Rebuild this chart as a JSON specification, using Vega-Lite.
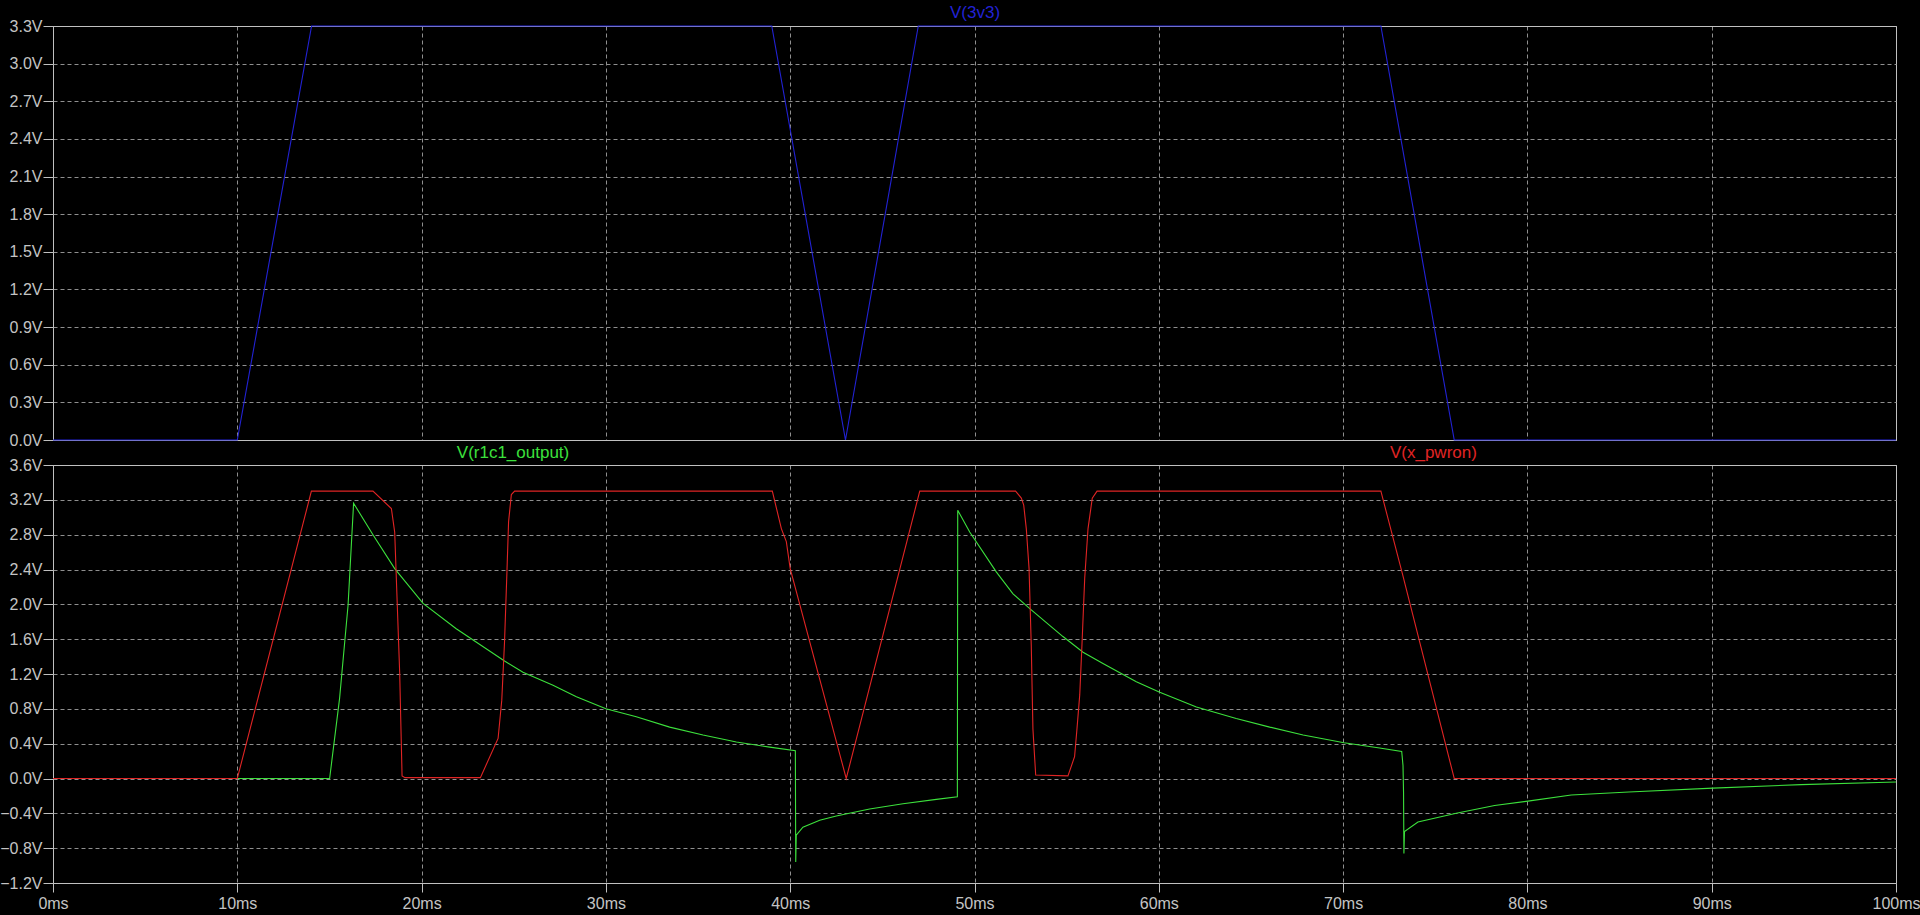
{
  "$schema": "https://vega.github.io/schema/vega-lite/v6.json",
  "background": "#000000",
  "padding": {"left": -1, "top": 3, "right": 0, "bottom": 6},
  "spacing": 25,
  "bounds": "flush",
  "datasets": {
    "v3v3": [
      {"t": 0, "v": 0}, {"t": 10.0, "v": 0}, {"t": 14.03, "v": 3.3}, {"t": 39.0, "v": 3.3},
      {"t": 43.0, "v": 0}, {"t": 46.95, "v": 3.3}, {"t": 72.05, "v": 3.3}, {"t": 76.03, "v": 0}, {"t": 100, "v": 0}
    ],
    "pwron": [
      {"t": 0, "v": 0}, {"t": 10.0, "v": 0}, {"t": 14.02, "v": 3.3}, {"t": 17.36, "v": 3.3},
      {"t": 18.36, "v": 3.1}, {"t": 18.54, "v": 2.83}, {"t": 18.81, "v": 1.22}, {"t": 18.94, "v": 0.03},
      {"t": 19.1, "v": 0.01}, {"t": 23.19, "v": 0.01}, {"t": 24.15, "v": 0.46}, {"t": 24.35, "v": 0.9},
      {"t": 24.5, "v": 1.57}, {"t": 24.63, "v": 2.37}, {"t": 24.72, "v": 2.95}, {"t": 24.87, "v": 3.26},
      {"t": 25.05, "v": 3.3}, {"t": 39.03, "v": 3.3}, {"t": 39.52, "v": 2.87}, {"t": 39.79, "v": 2.72},
      {"t": 40.0, "v": 2.41}, {"t": 43.04, "v": 0.0}, {"t": 47.03, "v": 3.3}, {"t": 52.23, "v": 3.3},
      {"t": 52.54, "v": 3.22}, {"t": 52.67, "v": 3.14}, {"t": 52.81, "v": 2.87}, {"t": 52.96, "v": 2.41},
      {"t": 53.08, "v": 1.53}, {"t": 53.17, "v": 0.57}, {"t": 53.32, "v": 0.04}, {"t": 55.07, "v": 0.03},
      {"t": 55.43, "v": 0.25}, {"t": 55.56, "v": 0.57}, {"t": 55.71, "v": 0.96}, {"t": 55.83, "v": 1.53},
      {"t": 55.98, "v": 2.3}, {"t": 56.16, "v": 2.87}, {"t": 56.39, "v": 3.22}, {"t": 56.65, "v": 3.3},
      {"t": 72.05, "v": 3.3}, {"t": 73.23, "v": 2.34}, {"t": 76.03, "v": 0.0}, {"t": 100, "v": 0.0}
    ],
    "r1c1": [
      {"t": 0, "v": 0}, {"t": 15.01, "v": 0}, {"t": 15.55, "v": 0.92}, {"t": 16.01, "v": 1.99},
      {"t": 16.31, "v": 3.16}, {"t": 17.36, "v": 2.8}, {"t": 18.54, "v": 2.41}, {"t": 20.08, "v": 2.01},
      {"t": 21.88, "v": 1.72}, {"t": 24.5, "v": 1.35}, {"t": 25.5, "v": 1.22}, {"t": 27.13, "v": 1.07},
      {"t": 28.4, "v": 0.94}, {"t": 30.0, "v": 0.8}, {"t": 31.65, "v": 0.71}, {"t": 33.46, "v": 0.59},
      {"t": 35.27, "v": 0.5}, {"t": 37.08, "v": 0.42}, {"t": 38.89, "v": 0.36}, {"t": 40.28, "v": 0.32},
      {"t": 40.3, "v": -0.96}, {"t": 40.33, "v": -0.65}, {"t": 40.69, "v": -0.56}, {"t": 41.6, "v": -0.48},
      {"t": 42.5, "v": -0.43}, {"t": 44.31, "v": -0.35}, {"t": 46.12, "v": -0.29}, {"t": 47.93, "v": -0.24},
      {"t": 49.07, "v": -0.21}, {"t": 49.09, "v": 3.08}, {"t": 49.74, "v": 2.83}, {"t": 51.19, "v": 2.37},
      {"t": 52.09, "v": 2.12}, {"t": 53.0, "v": 1.95}, {"t": 54.8, "v": 1.63}, {"t": 55.89, "v": 1.45},
      {"t": 56.97, "v": 1.32}, {"t": 58.78, "v": 1.11}, {"t": 60.05, "v": 0.99}, {"t": 62.04, "v": 0.82},
      {"t": 64.2, "v": 0.69}, {"t": 66.02, "v": 0.59}, {"t": 67.83, "v": 0.5}, {"t": 70.05, "v": 0.41},
      {"t": 71.98, "v": 0.35}, {"t": 73.18, "v": 0.31}, {"t": 73.25, "v": 0.15}, {"t": 73.28, "v": -0.16},
      {"t": 73.3, "v": -0.86}, {"t": 73.33, "v": -0.61}, {"t": 74.06, "v": -0.5}, {"t": 76.14, "v": -0.4},
      {"t": 78.22, "v": -0.31}, {"t": 80.03, "v": -0.26}, {"t": 82.38, "v": -0.19}, {"t": 85.5, "v": -0.155},
      {"t": 90.07, "v": -0.11}, {"t": 94.85, "v": -0.07}, {"t": 100, "v": -0.04}
    ],
    "topLabel": [{"t": 50.03, "v": 3.4, "label": "V(3v3)"}],
    "greenLabel": [{"t": 24.96, "v": 3.74, "label": "V(r1c1_output)"}],
    "redLabel": [{"t": 74.9, "v": 3.74, "label": "V(x_pwron)"}]
  },
  "vconcat": [
    {
      "width": 1843,
      "height": 414,
      "layer": [
        {
          "data": {"name": "v3v3"},
          "mark": {"type": "line", "color": "#2222d4", "strokeWidth": 1.1},
          "encoding": {
            "x": {
              "field": "t", "type": "quantitative",
              "scale": {"domain": [0, 100], "nice": false, "zero": false},
              "axis": {
                "values": [0, 10, 20, 30, 40, 50, 60, 70, 80, 90, 100], "tickCount": 50,
                "title": null, "labels": false, "ticks": false, "domain": false,
                "grid": true, "minExtent": 0, "maxExtent": 0,
                "gridColor": {"condition": {"test": "datum.value <= 0.001 || datum.value >= 99.999", "value": "#c0c0c0"}, "value": "#8f8f8f"},
                "gridDash": {"condition": {"test": "datum.value <= 0.001 || datum.value >= 99.999", "value": []}, "value": [4, 3]}
              }
            },
            "y": {
              "field": "v", "type": "quantitative",
              "scale": {"domain": [0, 3.3], "nice": false, "zero": false},
              "axis": {
                "values": [0, 0.3, 0.6, 0.9, 1.2, 1.5, 1.8, 2.1, 2.4, 2.7, 3.0, 3.3], "tickCount": 50,
                "labelExpr": "format(datum.value, '.1f') + 'V'",
                "title": null, "domain": false, "ticks": true, "tickSize": 10,
                "tickColor": "#c0c0c0", "labelPadding": 1, "labelColor": "#c4c4c4",
                "labelFont": "Liberation Sans", "labelFontSize": 16, "labelOverlap": false,
                "minExtent": 45, "maxExtent": 45, "grid": true,
                "gridColor": {"condition": {"test": "datum.value <= 0.001 || datum.value >= 3.299", "value": "#c0c0c0"}, "value": "#8f8f8f"},
                "gridDash": {"condition": {"test": "datum.value <= 0.001 || datum.value >= 3.299", "value": []}, "value": [4, 3]}
              }
            }
          }
        },
        {
          "data": {"name": "topLabel"},
          "mark": {"type": "text", "color": "#2222d4", "fontSize": 17, "font": "Liberation Sans", "align": "center", "baseline": "middle"},
          "encoding": {
            "x": {"field": "t", "type": "quantitative"},
            "y": {"field": "v", "type": "quantitative"},
            "text": {"field": "label"}
          }
        }
      ]
    },
    {
      "width": 1843,
      "height": 418,
      "layer": [
        {
          "data": {"name": "r1c1"},
          "mark": {"type": "line", "color": "#3ce03c", "strokeWidth": 1.1},
          "encoding": {
            "x": {
              "field": "t", "type": "quantitative",
              "scale": {"domain": [0, 100], "nice": false, "zero": false},
              "axis": {
                "values": [0, 10, 20, 30, 40, 50, 60, 70, 80, 90, 100], "tickCount": 50,
                "labelExpr": "format(datum.value, 'd') + 'ms'",
                "title": null, "domain": false, "ticks": true, "tickSize": 9,
                "tickColor": "#c0c0c0", "labelPadding": 3, "labelColor": "#c4c4c4",
                "labelFont": "Liberation Sans", "labelFontSize": 16, "labelFlush": false,
                "labelOverlap": false, "grid": true,
                "gridColor": {"condition": {"test": "datum.value <= 0.001 || datum.value >= 99.999", "value": "#c0c0c0"}, "value": "#8f8f8f"},
                "gridDash": {"condition": {"test": "datum.value <= 0.001 || datum.value >= 99.999", "value": []}, "value": [4, 3]}
              }
            },
            "y": {
              "field": "v", "type": "quantitative",
              "scale": {"domain": [-1.2, 3.6], "nice": false, "zero": false},
              "axis": {
                "values": [-1.2, -0.8, -0.4, 0, 0.4, 0.8, 1.2, 1.6, 2.0, 2.4, 2.8, 3.2, 3.6], "tickCount": 50,
                "labelExpr": "format(datum.value, '.1f') + 'V'",
                "title": null, "domain": false, "ticks": true, "tickSize": 10,
                "tickColor": "#c0c0c0", "labelPadding": 1, "labelColor": "#c4c4c4",
                "labelFont": "Liberation Sans", "labelFontSize": 16, "labelOverlap": false,
                "minExtent": 45, "maxExtent": 45, "grid": true,
                "gridColor": {"condition": {"test": "datum.value <= -1.199 || datum.value >= 3.599", "value": "#c0c0c0"}, "value": "#8f8f8f"},
                "gridDash": {"condition": {"test": "datum.value <= -1.199 || datum.value >= 3.599", "value": []}, "value": [4, 3]}
              }
            }
          }
        },
        {
          "data": {"name": "pwron"},
          "mark": {"type": "line", "color": "#e02424", "strokeWidth": 1.1},
          "encoding": {
            "x": {"field": "t", "type": "quantitative"},
            "y": {"field": "v", "type": "quantitative"}
          }
        },
        {
          "data": {"name": "greenLabel"},
          "mark": {"type": "text", "color": "#3ce03c", "fontSize": 17, "font": "Liberation Sans", "align": "center", "baseline": "middle"},
          "encoding": {
            "x": {"field": "t", "type": "quantitative"},
            "y": {"field": "v", "type": "quantitative"},
            "text": {"field": "label"}
          }
        },
        {
          "data": {"name": "redLabel"},
          "mark": {"type": "text", "color": "#e02424", "fontSize": 17, "font": "Liberation Sans", "align": "center", "baseline": "middle"},
          "encoding": {
            "x": {"field": "t", "type": "quantitative"},
            "y": {"field": "v", "type": "quantitative"},
            "text": {"field": "label"}
          }
        }
      ]
    }
  ],
  "config": {
    "view": {"stroke": "#c0c0c0", "strokeWidth": 1},
    "axis": {"labelFont": "Liberation Sans"}
  }
}
